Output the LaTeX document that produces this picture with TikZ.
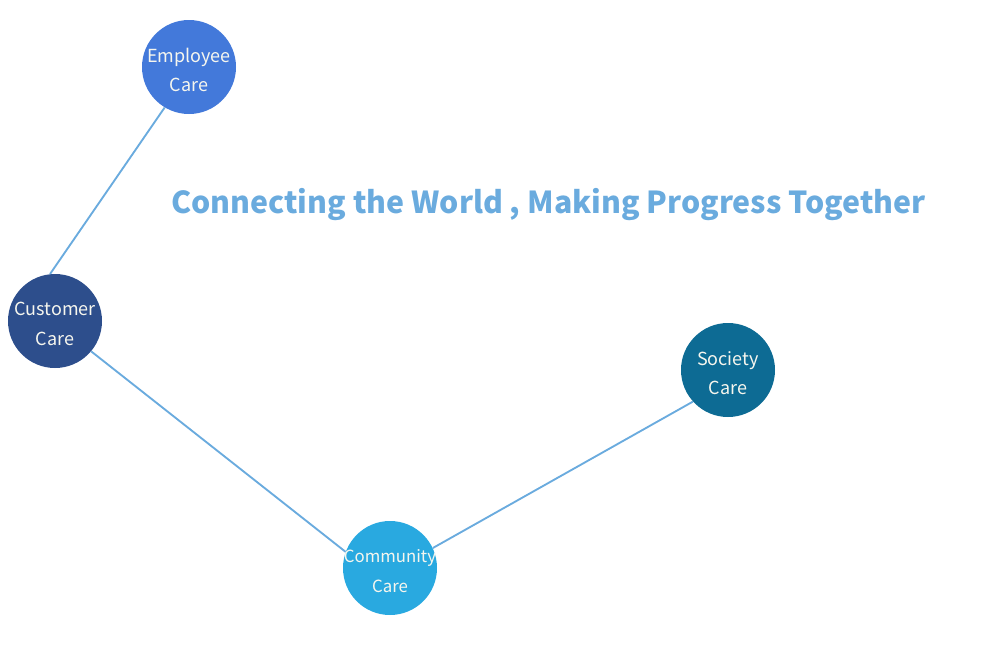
\documentclass[tikz,border=0pt]{standalone}
\usepackage{fontspec}
\setmainfont{Noto Sans CJK SC}
\definecolor{empc}{HTML}{4379DA}
\definecolor{cusc}{HTML}{2D4E8C}
\definecolor{comc}{HTML}{29A9E0}
\definecolor{socc}{HTML}{0D6B94}
\definecolor{linec}{HTML}{6AABDE}
\definecolor{txtc}{HTML}{F6F6EE}
\begin{document}
\begin{tikzpicture}[x=0.75pt,y=-0.75pt,
  bubble/.style={circle,minimum size=70.5pt,inner sep=0pt},
  bubbletext/.style={inner sep=0pt,align=center,text=txtc,yshift=-2.25pt,
    font=\fontsize{13.5}{22}\selectfont},
  link/.style={draw=linec,line width=1.4pt}]
\useasboundingbox (0,0) rectangle (990,650);
\node[bubble,fill=empc] (emp) at (189,67) {};
\node[bubble,fill=cusc] (cus) at (55,321) {};
\node[bubble,fill=comc] (com) at (390,568) {};
\node[bubble,fill=socc] (soc) at (728,370) {};
\draw[link] (emp.239) -- (cus.96);
\draw[link] (cus.320) -- (com.160);
\draw[link] (com.25) -- (soc.222);
\node[bubbletext] (empt) at (emp.center) {Employee\\Care};
\node[bubbletext] (cust) at (cus.center) {Customer\\Care};
\node[bubbletext,font=\fontsize{12.6}{23}\selectfont] (comt) at (com.center) {Community\\Care};
\node[bubbletext] (soct) at (soc.center) {Society\\Care};
\node[font=\fontsize{22.7}{27}\selectfont\bfseries,text=linec,inner sep=0pt] (title) at (548.5,205) {Connecting the World , Making Progress Together};
\end{tikzpicture}
\end{document}
